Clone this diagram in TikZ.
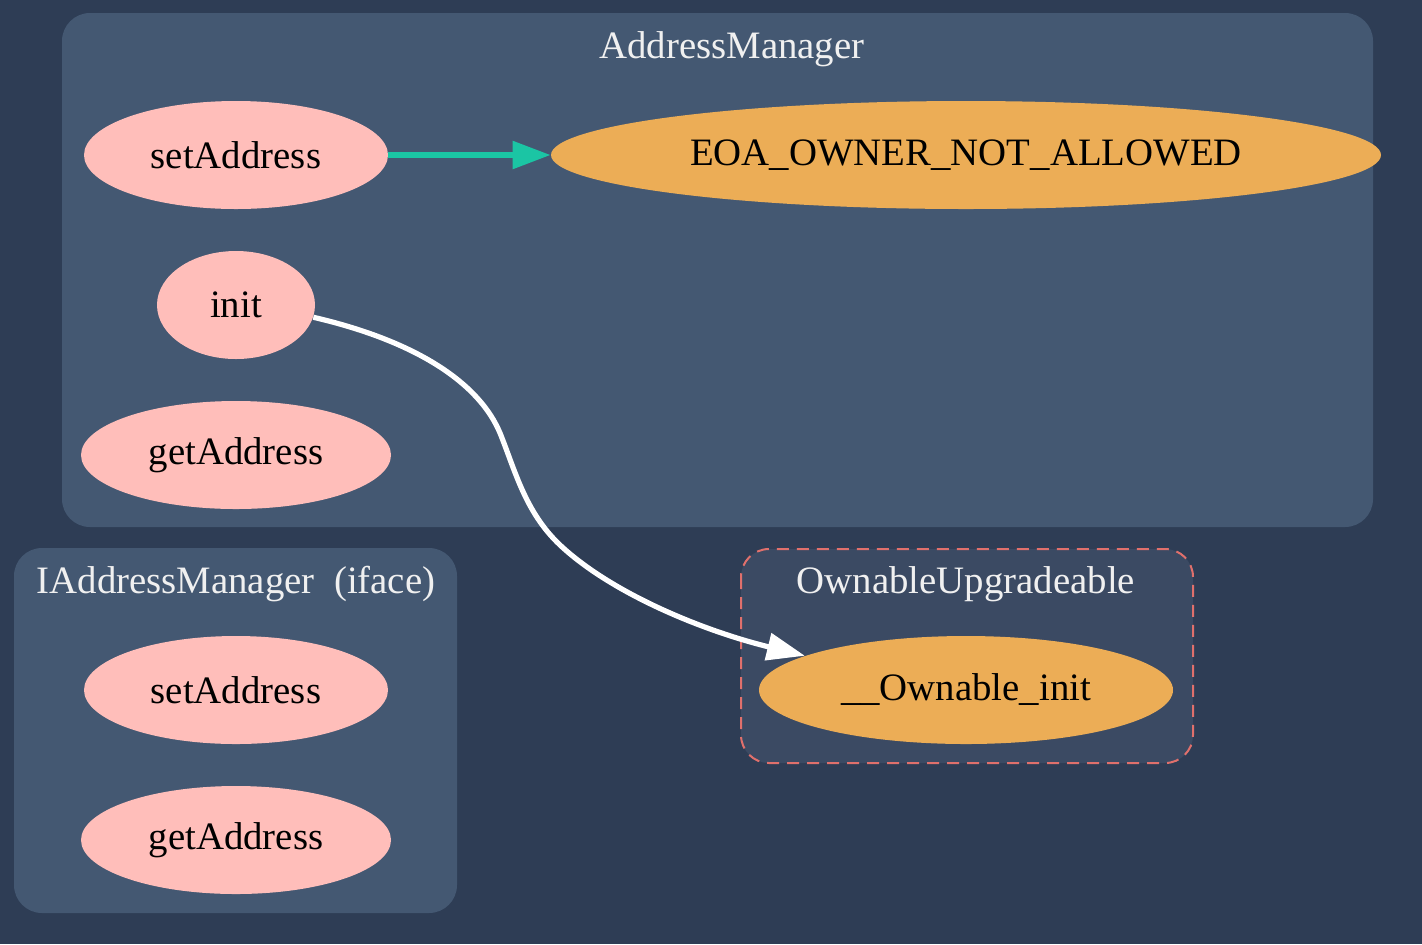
\documentclass[tikz,border=0pt]{standalone}
\usepackage{fontspec}
\setmainfont{Liberation Serif}
\usetikzlibrary{shapes.geometric,arrows.meta}
\definecolor{bgc}{HTML}{2E3D55}
\definecolor{clc}{HTML}{445872}
\definecolor{owc}{HTML}{3B4A63}
\definecolor{pinkc}{HTML}{FFBEBA}
\definecolor{orc}{HTML}{ECAD56}
\definecolor{tealc}{HTML}{1BC5A4}
\definecolor{dashc}{HTML}{E0706C}
\definecolor{titc}{HTML}{F0F0F0}
\tikzset{
  fn/.style={ellipse, inner sep=0pt, fill=pinkc, minimum height=54pt, font=\fontsize{19.4}{23}\selectfont, text=black},
  ext/.style={fn, fill=orc},
  cltitle/.style={inner sep=0pt, font=\fontsize{19.4}{23}\selectfont, text=titc},
  clbox/.style={fill=clc, rounded corners=14pt},
}
\begin{document}
\begin{tikzpicture}[x=0.5pt,y=-0.5pt]
\fill[bgc] (0,0) rectangle (1422,944);
\useasboundingbox (0,0) rectangle (1422,944);
% clusters
\fill[clbox] (62,13) rectangle (1373,527);
\node[cltitle] (t1) at (732,49) {AddressManager};
\fill[clbox] (14,548) rectangle (457,913);
\node[cltitle] (t2) at (236,584) {IAddressManager\ \ (iface)};
\filldraw[fill=owc, draw=dashc, line width=1pt, dash pattern=on 6pt off 4pt, rounded corners=14pt] (741,549) rectangle (1193,763);
\node[cltitle] (t3) at (966,584) {OwnableUpgradeable};
% nodes
\node[fn, minimum width=152pt] (set) at (236,155) {setAddress};
\node[ext, minimum width=415pt] (eoa) at (966,155) {EOA\_OWNER\_NOT\_ALLOWED};
\node[fn, minimum width=79pt] (init) at (236,305) {init};
\node[fn, minimum width=155pt] (get) at (236,455) {getAddress};
\node[fn, minimum width=152pt] (iset) at (236,690) {setAddress};
\node[fn, minimum width=155pt] (iget) at (236,840) {getAddress};
\node[ext, minimum width=207pt] (own) at (966,690) {\_\_Ownable\_init};
% edges
\draw[tealc, line width=2.8pt, -{Triangle[length=19pt,width=13.5pt]}] (set) -- (eoa);
\draw[white, line width=2.6pt, -{Triangle[length=19pt,width=13.5pt]}]
  (init.-9) .. controls (420,342) and (480,385) .. (500,433)
  .. controls (515,470) and (525,512) .. (560,545)
  .. controls (610,592) and (700,630) .. (own.168);
\end{tikzpicture}
\end{document}
